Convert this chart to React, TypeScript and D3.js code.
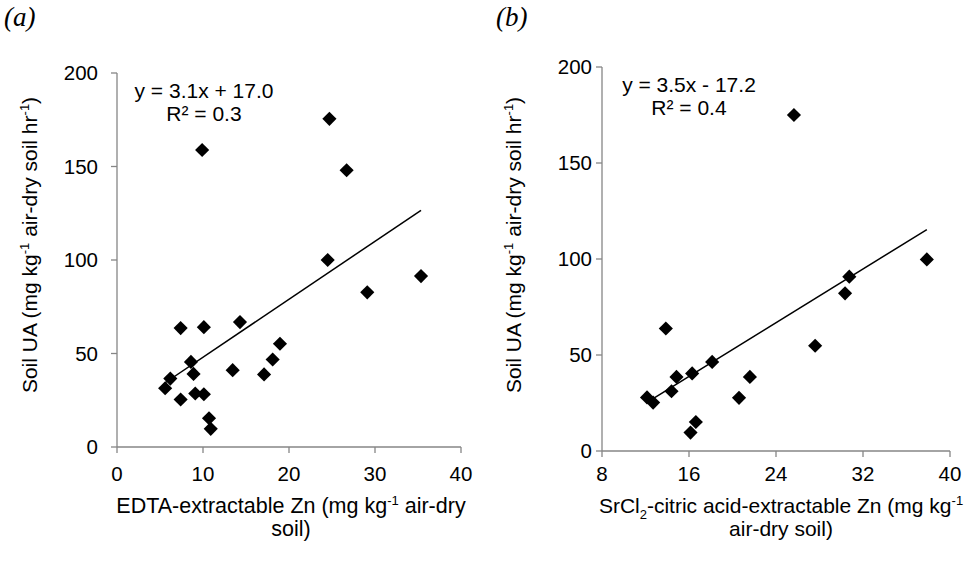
import React from 'react';
import * as d3 from 'd3';

// panel (a): EDTA-extractable Zn vs soil UA
const edtaZn = [24.7, 9.9, 26.7, 24.5, 35.35, 29.1, 14.3, 7.4, 10.1, 18.95, 18.1, 8.6, 8.9, 13.45, 17.1, 6.2, 5.6, 9.1, 10.1, 7.4, 10.7, 10.9];
const uaA = [175.5, 158.8, 148, 100, 91.4, 82.7, 66.8, 63.6, 64.1, 55.2, 46.8, 45.5, 39.1, 41.1, 38.8, 36.6, 31.4, 28.6, 28.2, 25.4, 15.4, 9.7];

// panel (b): SrCl2-citric acid-extractable Zn vs soil UA
const srclZn = [25.65, 37.87, 30.74, 30.35, 27.6, 13.87, 18.13, 16.29, 14.85, 21.6, 14.39, 20.6, 12.14, 12.7, 16.63, 16.14];
const uaB = [175, 99.8, 90.8, 82.1, 54.8, 63.8, 46.4, 40.4, 38.6, 38.6, 31.1, 27.7, 27.9, 25.2, 15.1, 9.6];

const yTicks = [0, 50, 100, 150, 200];
const xTicksA = [0, 10, 20, 30, 40];
const xTicksB = [8, 16, 24, 32, 40];

const fitA = { slope: 3.1, intercept: 17.0, eq: 'y = 3.1x + 17.0', r2: '0.3' };
const fitB = { slope: 3.5, intercept: -17.2, eq: 'y = 3.5x - 17.2', r2: '0.4' };

const FONT = '"Liberation Sans", Arial, sans-serif';
const AXIS = '#868686';
const diamond = d3.symbol().type(d3.symbolSquare).size(100)();

function Panel({ xs, ys, xTicks, fit, x0, x1, y0, y1, eqX, eqY, labelGap, titleX, titleSize, yTitleX, title1, title2 }) {
  const x = d3.scaleLinear().domain([xTicks[0], xTicks[xTicks.length - 1]]).range([x0, x1]);
  const y = d3.scaleLinear().domain([0, 200]).range([y0, y1]);
  const [lo, hi] = d3.extent(xs);
  const line = d3.line().x(d => x(d)).y(d => y(fit.slope * d + fit.intercept));
  return (
    <g fontFamily={FONT}>
      <line x1={x0} x2={x0} y1={y0} y2={y1} stroke={AXIS} strokeWidth={1.3} />
      <line x1={x0} x2={x1} y1={y0} y2={y0} stroke={AXIS} strokeWidth={1.3} />
      {yTicks.map(t => (
        <g key={'y' + t}>
          <line x1={x0 - 6} x2={x0} y1={y(t)} y2={y(t)} stroke={AXIS} strokeWidth={1.3} />
          <text x={x0 - labelGap} y={y(t)} dy="0.35em" textAnchor="end" fontSize={20.5}>{t}</text>
        </g>
      ))}
      {xTicks.map(t => (
        <g key={'x' + t}>
          <line x1={x(t)} x2={x(t)} y1={y0} y2={y0 + 6} stroke={AXIS} strokeWidth={1.3} />
          <text x={x(t)} y={481} textAnchor="middle" fontSize={20.5}>{t}</text>
        </g>
      ))}
      <path d={line([lo, hi])} fill="none" stroke="#000" strokeWidth={1.5} />
      {xs.map((v, i) => (
        <path key={i} d={diamond} transform={`translate(${x(v)},${y(ys[i])}) rotate(45)`} fill="#000" />
      ))}
      <text x={eqX} y={eqY} textAnchor="middle" fontSize={21}>{fit.eq}</text>
      <text x={eqX} y={eqY + 23} textAnchor="middle" fontSize={21}>R² = {fit.r2}</text>
      <text transform={`translate(${yTitleX},245) rotate(-90)`} textAnchor="middle" fontSize={21}>
        Soil UA (mg kg<tspan dy="-8" fontSize={13}>-1</tspan><tspan dy="8"> air-dry soil hr</tspan>
        <tspan dy="-8" fontSize={13}>-1</tspan><tspan dy="8">)</tspan>
      </text>
      <text x={titleX} y={513} textAnchor="middle" fontSize={titleSize}>{title1}</text>
      <text x={titleX} y={536} textAnchor="middle" fontSize={titleSize}>{title2}</text>
    </g>
  );
}

export default function App() {
  return (
    <svg width={969} height={563} style={{ position: 'absolute', left: 0, top: 0, background: '#fff' }}>
      <text x={4} y={26} fontFamily='"Liberation Serif", serif' fontStyle="italic" fontSize={27}>(a)</text>
      <text x={496} y={26} fontFamily='"Liberation Serif", serif' fontStyle="italic" fontSize={27}>(b)</text>
      <Panel
        xs={edtaZn} ys={uaA} xTicks={xTicksA} fit={fitA}
        x0={117} x1={461} y0={447} y1={73}
        eqX={204} eqY={98} labelGap={19} titleX={291} titleSize={21.5} yTitleX={37}
        title1={<>EDTA-extractable Zn (mg kg<tspan dy="-8" fontSize={13}>-1</tspan><tspan dy="8"> air-dry</tspan></>}
        title2="soil)"
      />
      <Panel
        xs={srclZn} ys={uaB} xTicks={xTicksB} fit={fitB}
        x0={602} x1={950} y0={451} y1={67}
        eqX={689} eqY={92} labelGap={10} titleX={781} titleSize={21} yTitleX={521}
        title1={<>SrCl<tspan dy="6" fontSize={13}>2</tspan><tspan dy="-6">-citric acid-extractable Zn (mg kg</tspan><tspan dy="-8" fontSize={13}>-1</tspan></>}
        title2="air-dry soil)"
      />
    </svg>
  );
}
